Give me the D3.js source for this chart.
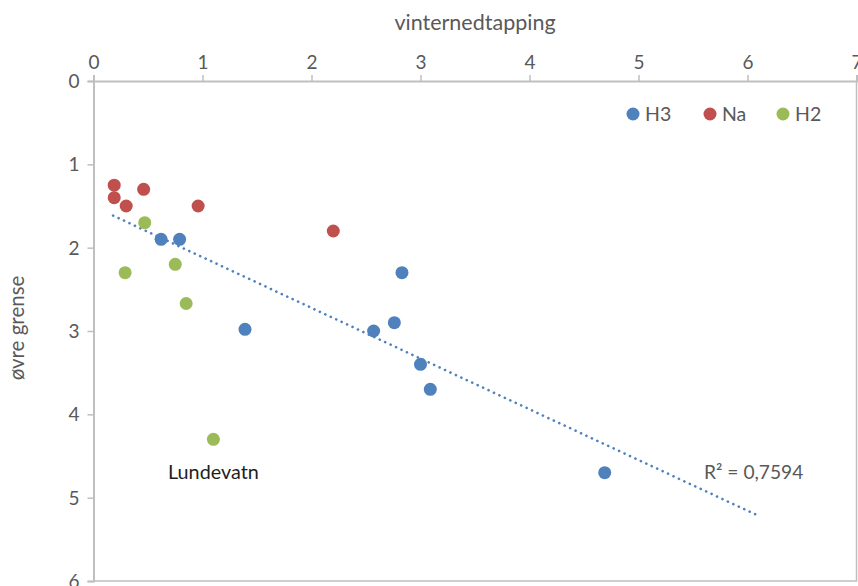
<!DOCTYPE html>
<html>
<head>
<meta charset="utf-8">
<script src="https://cdn.jsdelivr.net/npm/d3@7"></script>
<style>
  html, body { margin: 0; padding: 0; background: #fff; }
  svg { display: block; font-family: Lato, "Open Sans", sans-serif; }
</style>
</head>
<body>
<svg id="chart" width="858" height="586"></svg>
<script>
// vinternedtapping (x) against øvre grense (y), three groups
const seriesNames = ["H3", "Na", "H2"];
const seriesColors = ["#4F81BD", "#C0504D", "#9BBB59"];

const h3X = [0.62, 0.79, 1.39, 2.57, 2.76, 2.83, 3.0, 3.09, 4.69];
const h3Y = [1.9, 1.9, 2.98, 3.0, 2.9, 2.3, 3.4, 3.7, 4.7];

const naX = [0.19, 0.19, 0.3, 0.46, 0.96, 2.2];
const naY = [1.25, 1.4, 1.5, 1.3, 1.5, 1.8];

const h2X = [0.47, 0.29, 0.75, 0.85, 1.1];
const h2Y = [1.7, 2.3, 2.2, 2.67, 4.3];

const xTicks = [0, 1, 2, 3, 4, 5, 6, 7];
const yTicks = [0, 1, 2, 3, 4, 5, 6];

// linear trend on H3, extended backward and forward
const trendRange = [0.18, 6.09];
const r2Label = "R² = 0,7594";

const pointLabel = { text: "Lundevatn", x: 1.1, y: 4.3 };

const svg = d3.select("#chart");
const x = d3.scaleLinear().domain([0, 7]).range([93.5, 856.5]);
const y = d3.scaleLinear().domain([0, 6]).range([81, 581]);

const axisColor = "#BFBFBF";
const textColor = "#595959";

// plot-area frame (right and bottom edges)
svg.append("path")
  .attr("d", `M${x(0)},${y(6)}H${x(7)}V${y(0)}`)
  .attr("fill", "none").attr("stroke", axisColor).attr("stroke-width", 1.5);

// x axis along the top
const gx = svg.append("g").attr("transform", `translate(0,${y(0)})`)
  .call(d3.axisTop(x).tickValues(xTicks).tickSize(6).tickPadding(6).tickFormat(d3.format("d")));
// y axis on the left, values increasing downward
const gy = svg.append("g").attr("transform", `translate(${x(0)},0)`)
  .call(d3.axisLeft(y).tickValues(yTicks).tickSize(6).tickPadding(8).tickFormat(d3.format("d")));

[gx, gy].forEach(g => {
  g.select(".domain").attr("stroke", axisColor).attr("stroke-width", 2);
  g.selectAll(".tick line").attr("stroke", axisColor).attr("stroke-width", 1.5);
  g.selectAll(".tick text").attr("fill", textColor).attr("font-size", 19)
    .attr("font-family", "Lato, 'Open Sans', sans-serif");
});
gy.selectAll(".tick text").attr("dy", "0.35em");

// axis titles
svg.append("text")
  .attr("x", (x(0) + x(7)) / 2).attr("y", 30)
  .attr("text-anchor", "middle").attr("fill", textColor).attr("font-size", 21.5)
  .text("vinternedtapping");
svg.append("text")
  .attr("transform", `translate(24,${(y(0) + y(6)) / 2 - 3}) rotate(-90)`)
  .attr("text-anchor", "middle").attr("fill", textColor).attr("font-size", 20.5)
  .text("øvre grense");

// trendline from the least-squares fit of H3
const mx = d3.mean(h3X), my = d3.mean(h3Y);
const sxy = d3.sum(h3X, (v, i) => (v - mx) * (h3Y[i] - my));
const sxx = d3.sum(h3X, v => (v - mx) * (v - mx));
const slope = sxy / sxx, intercept = my - slope * mx;
svg.append("line")
  .attr("x1", x(trendRange[0])).attr("y1", y(intercept + slope * trendRange[0]))
  .attr("x2", x(trendRange[1])).attr("y2", y(intercept + slope * trendRange[1]))
  .attr("stroke", seriesColors[0]).attr("stroke-width", 2.6)
  .attr("stroke-linecap", "round").attr("stroke-dasharray", "0.1 5.9");

// points
const groups = [
  { xs: h3X, ys: h3Y, color: seriesColors[0] },
  { xs: naX, ys: naY, color: seriesColors[1] },
  { xs: h2X, ys: h2Y, color: seriesColors[2] }
];
groups.forEach(s => {
  svg.append("g").selectAll("circle")
    .data(s.xs.map((v, i) => [v, s.ys[i]]))
    .join("circle")
    .attr("cx", d => x(d[0])).attr("cy", d => y(d[1]))
    .attr("r", 6.5).attr("fill", s.color);
});

// point and fit labels
svg.append("text")
  .attr("x", x(pointLabel.x)).attr("y", y(pointLabel.y) + 40)
  .attr("text-anchor", "middle").attr("fill", "#1f1f1f").attr("font-size", 19.8)
  .text(pointLabel.text);
svg.append("text")
  .attr("x", 704).attr("y", 479)
  .attr("fill", textColor).attr("font-size", 19.2)
  .text(r2Label);

// legend
const legendX = [633, 710, 783];
const legend = svg.append("g");
seriesNames.forEach((name, i) => {
  legend.append("circle").attr("cx", legendX[i]).attr("cy", 114).attr("r", 6.5).attr("fill", seriesColors[i]);
  legend.append("text").attr("x", legendX[i] + 12).attr("y", 114).attr("dy", "0.35em")
    .attr("fill", textColor).attr("font-size", 19.5).text(name);
});
</script>
</body>
</html>
